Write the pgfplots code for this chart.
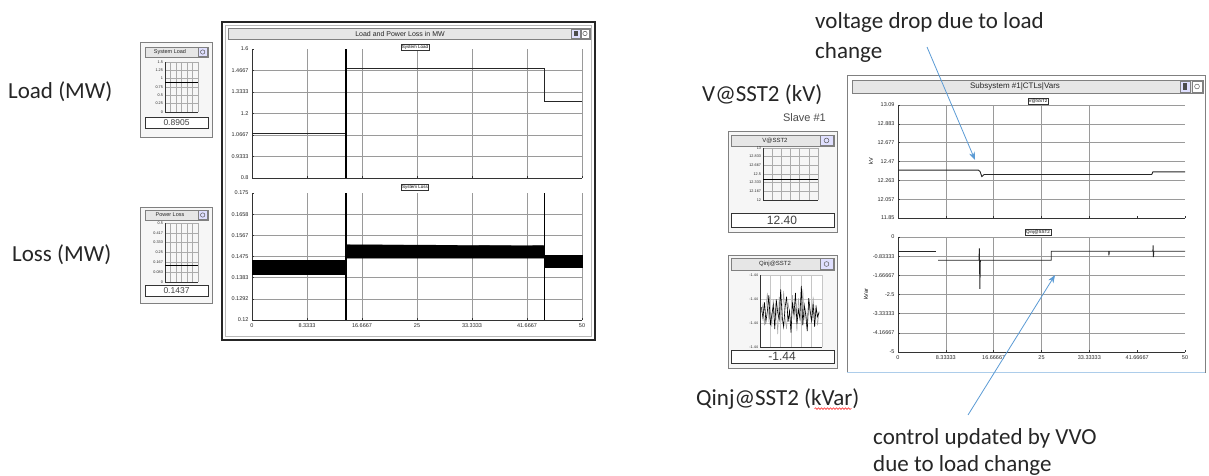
\documentclass[border=0pt]{standalone}
\usepackage{pgfplots}
\pgfplotsset{compat=1.18}
\usepackage{fontspec}
\setmainfont{Carlito}
\newfontfamily\ui{Liberation Sans}
\usetikzlibrary{arrows.meta,decorations.pathmorphing}
\definecolor{annot}{HTML}{5B9BD5}
\definecolor{gridc}{HTML}{9A9A9A}
\definecolor{barc}{HTML}{E6E6E6}
\definecolor{framec}{HTML}{808080}
\definecolor{txt}{HTML}{262626}
\newcommand{\annfont}{\fontsize{23}{27}\selectfont}
\pgfplotsset{
  base/.style={scale only axis, xmin=0, xmax=50, axis lines*=left,
    grid=major, grid style={gridc, line width=0.5pt},
    axis line style={black!80, line width=0.7pt},
    tick style={black!80, line width=0.4pt}, major tick length=2pt,
    xtick={0,8.33333,16.66667,25,33.33333,41.66667,50},
    xticklabels={0,8.3333,16.6667,25,33.3333,41.6667,50},
    tick label style={font=\ui\fontsize{5.5}{6}\selectfont, text=black!85},
    label style={font=\ui\fontsize{5.5}{6}\selectfont},
    /pgf/number format/assume math mode=true, clip=false},
  mini/.style={scale only axis, xmin=0, xmax=6, xtick={0,...,6}, xticklabels={},
    grid=major, grid style={gray!65, line width=0.4pt}, axis lines*=left,
    axis line style={black!80, line width=0.6pt}, tick style={draw=none},
    tick label style={font=\ui\fontsize{3.8}{4}\selectfont, text=black!85},
    yticklabel style={xshift=1.5pt},
    /pgf/number format/assume math mode=true, clip=false},
}
\begin{document}
\begin{tikzpicture}[x=1pt,y=1pt]
\useasboundingbox (0,0) rectangle (1209,475);
\fill[white] (0,0) rectangle (1209,475);
% ---------- panel frames (pixel coordinates, y downwards)
\begin{scope}[shift={(0,475)}, yscale=-1]
% left big panel
\draw[black!85, line width=1.4pt, fill=white] (222,22) rectangle (595,340);
\draw[gray!55, line width=0.6pt] (225.5,25.5) rectangle (591.5,336.5);
\draw[framec, fill=barc] (228,28) rectangle (590,39);
\draw[framec, fill=blue!12] (571,29) rectangle (580,38);
\fill[black!70] (573.5,31) rectangle (577.5,36);
\draw[framec, fill=white] (581,29) rectangle (589,38);
\draw[gray!70!black, line width=0.5pt] (585,33.5) circle (2.2);
% mini panel: System Load
\draw[framec, line width=1pt, fill=gray!7] (140,43) rectangle (212,137);
\draw[framec, fill=barc] (145,47) rectangle (208,57);
\draw[framec, fill=blue!12] (198,47.5) rectangle (207.5,56.5);
\draw[gray!70!black, line width=0.5pt] (202.7,52) circle (2.2);
\draw[black!80, fill=white] (145,117) rectangle (208,128);
% mini panel: Power Loss
\draw[framec, line width=1pt, fill=gray!7] (140,207) rectangle (212,303);
\draw[framec, fill=barc] (145,210) rectangle (208,220);
\draw[framec, fill=blue!12] (198,210.5) rectangle (207.5,219.5);
\draw[gray!70!black, line width=0.5pt] (202.7,215) circle (2.2);
\draw[black!80, fill=white] (145,285) rectangle (208,296);
% right big panel
\draw[framec, line width=0.9pt, fill=white] (847,75) rectangle (1205,372);
\draw[annot!50, line width=1pt] (847,372.5) -- (1205,372.5);
\draw[framec, fill=barc] (852,80) rectangle (1203,93);
\draw[framec, fill=blue!12] (1180,81) rectangle (1190,92);
\fill[black!70] (1183,83) rectangle (1187,90);
\draw[framec, fill=white] (1192,81) rectangle (1202,92);
\draw[gray!70!black, line width=0.5pt] (1197,86.5) circle (2.4);
% mini panel: V@SST2
\draw[framec, line width=1pt, fill=gray!7] (728,131) rectangle (837,232);
\draw[framec, fill=barc] (731,135) rectangle (834,146);
\draw[framec, fill=blue!12] (820,135.5) rectangle (833,145.5);
\draw[gray!70!black, line width=0.5pt] (826.5,140.5) circle (2.4);
\draw[black!80, fill=white] (731,213) rectangle (834,227);
% mini panel: Qinj@SST2
\draw[framec, line width=1pt, fill=gray!7] (728,255) rectangle (837,368);
\draw[framec, fill=barc] (731,258) rectangle (834,270);
\draw[framec, fill=blue!12] (820,258.5) rectangle (833,269.5);
\draw[gray!70!black, line width=0.5pt] (826.5,264) circle (2.4);
\draw[black!80, fill=white] (731,350) rectangle (834,363);
\fill[white] (760,275) rectangle (822,347);
\end{scope}

% ---------- Left: System Load
\begin{axis}[base, at={(252pt,297pt)}, anchor=south west, width=330pt, height=129pt,
  ymin=0.8, ymax=1.6,
  ytick={0.8,0.93333,1.06667,1.2,1.33333,1.46667},
  yticklabels={0.8,0.9333,1.0667,1.2,1.3333,1.4667},
  extra y ticks={1.6}, extra y tick labels={1.6}, extra y tick style={grid=none},
  xticklabels={}]
\addplot[black!85, line width=0.9pt, const plot] coordinates {(0,1.079) (14.24,1.478) (44.3,1.275) (50,1.275)};
\addplot[black, line width=1.1pt] coordinates {(14.24,0.8) (14.24,1.6)};
\end{axis}
% ---------- Left: System Loss
\begin{axis}[base, at={(252pt,155pt)}, anchor=south west, width=330pt, height=127pt,
  ymin=0.12, ymax=0.175,
  ytick={0.12,0.129167,0.138333,0.1475,0.156667,0.165833},
  yticklabels={0.12,0.1292,0.1383,0.1475,0.1567,0.1658},
  extra y ticks={0.175}, extra y tick labels={0.175}, extra y tick style={grid=none}]
\addplot[fill=black, draw=black, line width=0.3pt] coordinates {(0,0.1400) (0,0.1461) (14.24,0.1461) (14.24,0.1400)} -- cycle;
\addplot[fill=black, draw=black, line width=0.3pt] coordinates {(14.24,0.1468) (14.24,0.1526) (44.3,0.1522) (44.3,0.1468)} -- cycle;
\addplot[fill=black, draw=black, line width=0.3pt] coordinates {(44.3,0.1429) (44.3,0.1482) (50,0.1482) (50,0.1429)} -- cycle;
\addplot[black, line width=1.1pt] coordinates {(14.24,0.12) (14.24,0.175)};
\addplot[black, line width=1.1pt] coordinates {(44.3,0.12) (44.3,0.175)};
\end{axis}
% ---------- Right: V@SST2
\begin{axis}[base, at={(898pt,257pt)}, anchor=south west, width=287pt, height=113pt,
  ymin=11.85, ymax=13.09,
  ytick={11.85,12.05667,12.26333,12.47,12.67667,12.88333,13.09},
  yticklabels={11.85,12.057,12.263,12.47,12.677,12.883,13.09},
  xtick={0,8.33333,16.66667,25,33.33333}, xticklabels={},
  extra x ticks={41.66667,50}, extra x tick labels={}, extra x tick style={grid=none},
  ylabel={kV}, ylabel style={yshift=-2pt}]
\addplot[black!85, line width=0.9pt] coordinates {(0,12.375) (14.0,12.375) (14.3,12.36) (14.6,12.305) (15.0,12.327) (44.2,12.327) (44.4,12.356) (50,12.356)};
\end{axis}
% ---------- Right: Qinj@SST2
\begin{axis}[base, at={(898pt,123pt)}, anchor=south west, width=287pt, height=115pt,
  ymin=-5, ymax=0,
  ytick={-5,-4.16667,-3.33333,-2.5,-1.66667,-0.83333,0},
  yticklabels={-5,-4.16667,-3.33333,-2.5,-1.66667,-0.83333,0},
  xtick={0,8.33333,16.66667,25,33.33333},
  xticklabels={0,8.33333,16.66667,25,33.33333},
  extra x ticks={41.66667,50}, extra x tick labels={41.66667,50}, extra x tick style={grid=none},
  ylabel={kVar}, ylabel style={yshift=-2pt}]
\addplot[black!85, line width=0.9pt] coordinates {(0,-0.62) (6.69,-0.62)};
\addplot[black!85, line width=0.9pt] coordinates {(6.98,-1.01) (14.1,-1.01) (14.18,-0.5) (14.26,-2.25) (14.34,-1.01) (26.7,-1.01) (26.7,-0.62) (36.7,-0.62) (36.75,-0.80) (36.8,-0.62) (44.4,-0.62) (44.45,-0.36) (44.5,-0.87) (44.55,-0.62) (50,-0.62)};
\end{axis}
% ---------- mini: System Load
\begin{axis}[mini, at={(165pt,363pt)}, anchor=south west, width=33pt, height=50pt,
  ymin=0, ymax=1.5, ytick={0,0.25,0.5,0.75,1,1.25,1.5},
  yticklabels={0,0.25,0.5,0.75,1,1.25,1.5}]
\addplot[black, line width=0.8pt] coordinates {(0,0.8905) (6,0.8905)};
\end{axis}
% ---------- mini: Power Loss
\begin{axis}[mini, at={(165pt,193pt)}, anchor=south west, width=33pt, height=59pt,
  ymin=0, ymax=0.5, ytick={0,0.083333,0.166667,0.25,0.333333,0.416667,0.5},
  yticklabels={0,0.083,0.167,0.25,0.333,0.417,0.5}]
\addplot[black, line width=0.8pt] coordinates {(0,0.1437) (6,0.1437)};
\end{axis}
% ---------- mini: V@SST2
\begin{axis}[mini, at={(763pt,275pt)}, anchor=south west, width=55pt, height=52pt,
  ymin=12, ymax=13, ytick={12,12.166667,12.333333,12.5,12.666667,12.833333,13},
  yticklabels={12,12.167,12.333,12.5,12.667,12.833,13}]
\addplot[black, line width=0.8pt] coordinates {(0,12.40) (6,12.40)};
\end{axis}
% ---------- mini: Qinj@SST2
\begin{axis}[mini, at={(760pt,128pt)}, anchor=south west, width=62pt, height=72pt,
  xmin=0, xmax=42, xtick={0,7,14,21,28,35,42},
  grid style={gray!45, line width=0.6pt},
  ymin=0, ymax=1, ytick={0,0.333,0.667,1},
  yticklabels={-1.44,-1.44,-1.44,-1.44}]
\addplot[gray!70, line width=0.5pt] coordinates {(1,0.48) (2,0.60) (3,0.30) (4,0.55) (5,0.75) (6,0.38) (7,0.50) (8,0.28) (9,0.66) (10,0.42) (11,0.58) (12,0.18) (13,0.70) (14,0.45) (15,0.35) (16,0.78) (17,0.40) (18,0.25) (19,0.62) (20,0.48) (21,0.30) (22,0.72) (23,0.38) (24,0.55) (25,0.22) (26,0.68) (27,0.45) (28,0.33) (29,0.80) (30,0.40) (31,0.52) (32,0.26) (33,0.64) (34,0.44) (35,0.35) (36,0.70) (37,0.40) (38,0.58) (39,0.30) (40,0.50)};
\addplot[black, line width=0.6pt] coordinates {(1,0.55) (2,0.40) (3,0.62) (4,0.35) (5,0.50) (6,0.72) (7,0.30) (8,0.45) (9,0.58) (10,0.25) (11,0.66) (12,0.48) (13,0.38) (14,0.80) (15,0.42) (16,0.28) (17,0.55) (18,0.70) (19,0.35) (20,0.50) (21,0.20) (22,0.62) (23,0.45) (24,0.75) (25,0.32) (26,0.52) (27,0.40) (28,0.85) (29,0.30) (30,0.58) (31,0.44) (32,0.22) (33,0.68) (34,0.50) (35,0.36) (36,0.60) (37,0.28) (38,0.55) (39,0.42) (40,0.48)};
\end{axis}

% ---------- texts, boxes, arrows (pixel coordinates, y downwards)
\begin{scope}[shift={(0,475)}, yscale=-1]
\node[font=\ui\fontsize{7}{8}\selectfont, text=black!85] at (400,33.5) {Load and Power Loss in MW};
\node[font=\ui\fontsize{8}{9}\selectfont, text=black!85] at (1015,86.5) {Subsystem \#1|CTLs|Vars};
\node[draw=black!80, fill=white, inner sep=0.8pt, font=\ui\fontsize{4.5}{5}\selectfont] at (415,47.5) {System Load};
\node[draw=black!80, fill=white, inner sep=0.8pt, font=\ui\fontsize{4.5}{5}\selectfont] at (415,187.5) {System Loss};
\node[draw=black!80, fill=white, inner sep=0.8pt, font=\ui\fontsize{4.5}{5}\selectfont] at (1038,101) {V@SST2};
\node[draw=black!80, fill=white, inner sep=0.8pt, font=\ui\fontsize{4.5}{5}\selectfont] at (1038,232) {Qinj@SST2};
\node[font=\ui\fontsize{5.5}{6}\selectfont, text=black!85] at (170,52) {System Load};
\node[font=\ui\fontsize{5.5}{6}\selectfont, text=black!85] at (170,215) {Power Loss};
\node[font=\ui\fontsize{8.5}{9}\selectfont, text=black!75] at (176.5,122.5) {0.8905};
\node[font=\ui\fontsize{8.5}{9}\selectfont, text=black!75] at (176.5,290.5) {0.1437};
\node[font=\ui\fontsize{6}{7}\selectfont, text=black!85] at (775,140.5) {V@SST2};
\node[font=\ui\fontsize{6}{7}\selectfont, text=black!85] at (775,264) {Qinj@SST2};
\node[font=\ui\fontsize{12}{13}\selectfont, text=black!75] at (782,220) {12.40};
\node[font=\ui\fontsize{12}{13}\selectfont, text=black!75] at (782,356.5) {-1.44};
\node[font=\ui\fontsize{11}{12}\selectfont, text=black!70, anchor=east, inner sep=0pt] at (826,118) {Slave \#1};
% annotation texts
\node[font=\annfont, text=txt, anchor=west, inner sep=0pt] at (8,92) {Load (MW)};
\node[font=\annfont, text=txt, anchor=west, inner sep=0pt] at (12,255) {Loss (MW)};
\node[font=\annfont, text=txt, anchor=west, inner sep=0pt] at (815,22) {voltage drop due to load};
\node[font=\annfont, text=txt, anchor=west, inner sep=0pt] at (815,52) {change};
\node[font=\annfont, text=txt, anchor=west, inner sep=0pt] at (702,95) {V@SST2 (kV)};
\node[font=\annfont, text=txt, anchor=west, inner sep=0pt] (q) at (696,399) {Qinj@SST2 (kVar)};
\node[font=\annfont, text=txt, anchor=west, inner sep=0pt] at (873,438) {control updated by VVO};
\node[font=\annfont, text=txt, anchor=west, inner sep=0pt] at (873,465) {due to load change};
\draw[red!80, line width=0.6pt, decorate, decoration={snake, amplitude=0.8pt, segment length=3pt}] ([xshift=-45pt,yshift=-1pt]q.south east) -- ([xshift=-8pt,yshift=-1pt]q.south east);
% arrows
\draw[annot, line width=0.8pt, -{Stealth[length=8pt,width=6pt]}] (927,47) -- (975,160);
\draw[annot, line width=0.8pt, -{Stealth[length=8pt,width=6pt]}] (968,415) -- (1055,275);
\end{scope}
\end{tikzpicture}
\end{document}
